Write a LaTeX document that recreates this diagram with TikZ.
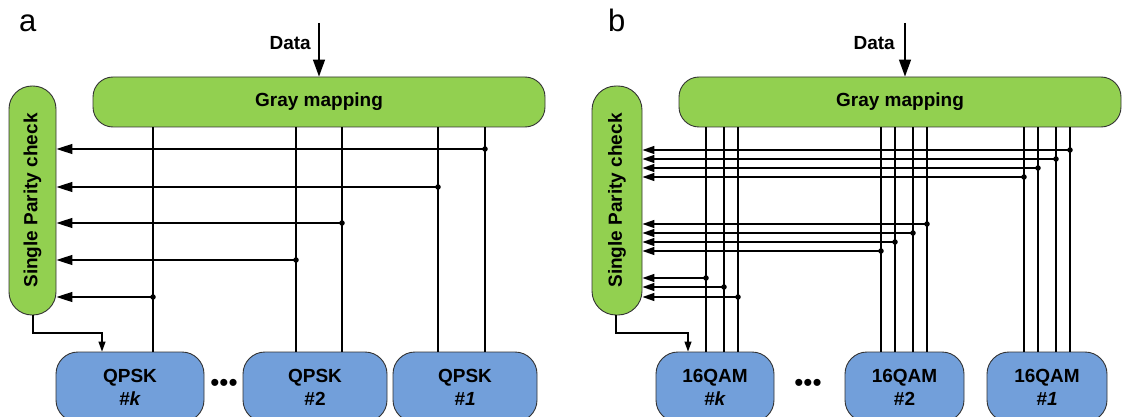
\documentclass[tikz,border=0pt]{standalone}
\usepackage{fontspec}
\usepackage{graphicx}
\setmainfont{Liberation Sans}
\usetikzlibrary{arrows.meta}
\definecolor{gr}{HTML}{92D050}
\definecolor{bl}{HTML}{729FDA}
\definecolor{edge}{HTML}{333333}
\begin{document}
\begin{tikzpicture}[x=1pt,y=-1pt,
  txt/.style={font=\fontsize{19}{23}\selectfont\bfseries},
  greenbox/.style={draw=edge, line width=0.9pt, fill=gr, rounded corners=20pt, txt, inner sep=0pt},
  bluebox/.style={draw=edge, line width=0.9pt, fill=bl, rounded corners=22pt, txt, align=center, minimum height=70pt, inner sep=0pt},
  wire/.style={line width=1.4pt},
  fba/.style={wire, -{Triangle[length=16pt,width=10pt]}},
  fbb/.style={wire, -{Triangle[length=12pt,width=8pt]}},
  dataarr/.style={wire, -{Triangle[length=17pt,width=12pt]}},
  smallarr/.style={line width=1.2pt, -{Triangle[length=10pt,width=7pt]}},
  jdot/.style={circle, fill=black, inner sep=0pt, minimum size=5.5pt},
  panel/.style={font=\fontsize{31}{31}\selectfont, anchor=base west, inner sep=0pt},
  ddots/.style={font=\fontsize{26}{26}\selectfont, inner sep=0pt}
]
\useasboundingbox (0,0) rectangle (1124,417);

% ================= panel a =================
\node[panel] (la) at (19,32) {a};
\node[greenbox, minimum width=452pt, minimum height=50pt] (gma) at (319,102) {Gray mapping};
\node[greenbox, rounded corners=23pt, minimum width=47pt, minimum height=229pt] (spca) at (32.5,200.5) {\rotatebox{90}{Single Parity check}};
\node[bluebox, minimum width=148pt] (qka) at (130,387) {QPSK\\\textit{\#k}};
\node[bluebox, minimum width=144pt] (q2a) at (315,387) {QPSK\\\#2};
\node[bluebox, minimum width=144pt] (q1a) at (465,387) {QPSK\\\textit{\#1}};
\node[ddots] (dta) at (224,385) {•••};

\node[txt, anchor=east, inner sep=0pt] (dataa) at (311,43) {Data};
\coordinate (dina) at (319,23);
\draw[dataarr] (dina) -- (dina |- gma.north);

% verticals
\foreach \n/\x/\b in {a1/153/qka, a2/296/q2a, a3/342/q2a, a4/438/q1a, a5/485/q1a} {
  \coordinate (v\n) at (\x,0);
  \draw[wire] (gma.south -| v\n) -- (\b.north -| v\n);
}
% feedback
\foreach \n/\y in {a5/149, a4/187, a3/223, a2/260, a1/297} {
  \coordinate (h\n) at (0,\y);
  \node[jdot] (j\n) at (v\n |- h\n) {};
  \draw[fba] (j\n.center) -- (j\n.center -| spca.east);
}
% spc to box
\coordinate (sa) at (33,0);
\coordinate (ka) at (102,0);
\coordinate (ma) at (0,333);
\draw[smallarr] (spca.south -| sa) -- (sa |- ma) -- (ka |- ma) -- (qka.north -| ka);

% ================= panel b =================
\node[panel] (lb) at (608,32) {b};
\node[greenbox, minimum width=442pt, minimum height=50pt] (gmb) at (900,102) {Gray mapping};
\node[greenbox, rounded corners=24pt, minimum width=50pt, minimum height=229pt] (spcb) at (617,200.5) {\rotatebox{90}{Single Parity check}};
\node[bluebox, minimum width=118pt] (qkb) at (715,387) {16QAM\\\textit{\#k}};
\node[bluebox, minimum width=119pt] (q2b) at (904.5,387) {16QAM\\\#2};
\node[bluebox, minimum width=120pt] (q1b) at (1047,387) {16QAM\\\textit{\#1}};
\node[ddots] (dtb) at (808,385) {•••};

\node[txt, anchor=east, inner sep=0pt] (datab) at (895,43) {Data};
\coordinate (dinb) at (905,23);
\draw[dataarr] (dinb) -- (dinb |- gmb.north);

\foreach \n/\x/\b in {b1/706/qkb, b2/724/qkb, b3/738/qkb,
                      b4/881/q2b, b5/895/q2b, b6/913/q2b, b7/927/q2b,
                      b8/1024/q1b, b9/1038/q1b, b10/1056/q1b, b11/1070/q1b} {
  \coordinate (v\n) at (\x,0);
  \draw[wire] (gmb.south -| v\n) -- (\b.north -| v\n);
}
\foreach \n/\y in {b11/150, b10/159, b9/168, b8/177,
                   b7/224, b6/233, b5/242, b4/251,
                   b1/278, b2/287, b3/297} {
  \coordinate (h\n) at (0,\y);
  \node[jdot] (j\n) at (v\n |- h\n) {};
  \draw[fbb] (j\n.center) -- (j\n.center -| spcb.east);
}
\coordinate (sb) at (616,0);
\coordinate (kb) at (688,0);
\coordinate (mb) at (0,333);
\draw[smallarr] (spcb.south -| sb) -- (sb |- mb) -- (kb |- mb) -- (qkb.north -| kb);
\end{tikzpicture}
\end{document}
